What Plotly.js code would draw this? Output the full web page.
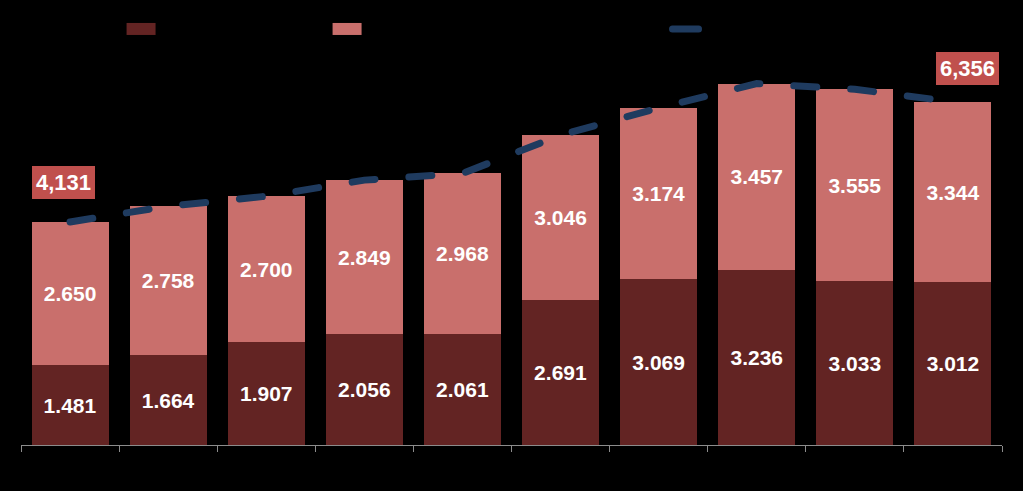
<!DOCTYPE html>
<html>
<head>
<meta charset="utf-8">
<script src="https://cdn.plot.ly/plotly-3.0.1.min.js"></script>
<style>
  html, body { margin: 0; padding: 0; background: #000; }
  #chart { width: 1023px; height: 491px; }
</style>
</head>
<body>
<div id="chart"></div>
<script>
// ---- data ----
const categories = ["2010", "2011", "2012", "2013", "2014", "2015", "2016", "2017", "2018", "2019"];
const seriesLowNames = "Serie 1";
const seriesHighNames = "Serie 2";
const lineName = "Total";
const lowValues  = [1.481, 1.664, 1.907, 2.056, 2.061, 2.691, 3.069, 3.236, 3.033, 3.012];
const highValues = [2.650, 2.758, 2.700, 2.849, 2.968, 3.046, 3.174, 3.457, 3.555, 3.344];
const totalValues = [4.131, 4.422, 4.607, 4.905, 5.029, 5.737, 6.243, 6.693, 6.588, 6.356];
const firstLabel = "4,131";
const lastLabel = "6,356";

const FONT = "Liberation Sans, Arial, sans-serif";
const DARK = "#632423";
const PINK = "#c96f6c";
const LINE = "#1f3b5f";
const BOX = "#c0504d";

const barText = {family: FONT, size: 21, color: "#ffffff", weight: 700};

const traces = [
  {
    type: "bar", name: seriesLowNames, x: categories, y: lowValues,
    text: lowValues.map(v => v.toFixed(3)), textposition: "inside",
    insidetextanchor: "middle", textangle: 0, constraintext: "none",
    insidetextfont: barText, marker: {color: DARK}, hoverinfo: "skip",
    legend: "legend"
  },
  {
    type: "bar", name: seriesHighNames, x: categories, y: highValues,
    text: highValues.map(v => v.toFixed(3)), textposition: "inside",
    insidetextanchor: "middle", textangle: 0, constraintext: "none",
    insidetextfont: barText, marker: {color: PINK}, hoverinfo: "skip",
    legend: "legend2"
  },
  {
    type: "scatter", mode: "lines", name: lineName, x: categories, y: totalValues,
    line: {color: LINE, width: 7, dash: "23px,34px"}, hoverinfo: "skip",
    legend: "legend3"
  }
];

const legendBase = {
  orientation: "h", yanchor: "middle", xanchor: "left", y: 1.027,
  bgcolor: "rgba(0,0,0,0)", font: {family: FONT, size: 16, color: "#000000"}
};

const lastIdx = categories.length - 1;

const layout = {
  width: 1023, height: 491,
  margin: {l: 21, r: 21, t: 40, b: 46},
  paper_bgcolor: "#000000", plot_bgcolor: "#000000",
  barmode: "stack", bargap: 0.215,
  showlegend: true,
  legend:  Object.assign({}, legendBase, {x: 0.102}),
  legend2: Object.assign({}, legendBase, {x: 0.312}),
  legend3: Object.assign({}, legendBase, {x: 0.657}),
  xaxis: {
    type: "category", showgrid: false, zeroline: false,
    range: [-0.5, lastIdx + 0.5],
    showline: true, linecolor: "#8c8c8c", linewidth: 1,
    ticks: "outside", tickson: "boundaries", ticklen: 6, tickcolor: "#8c8c8c",
    tickfont: {family: FONT, size: 14, color: "#000000"}
  },
  yaxis: {
    range: [0, 7.5], showgrid: false, zeroline: false, showline: false,
    showticklabels: false, ticks: ""
  },
  annotations: [
    {
      xref: "x", yref: "y", x: 0, y: totalValues[0],
      text: firstLabel, showarrow: false, yanchor: "bottom", yshift: 23, xshift: -7,
      bgcolor: BOX, borderpad: 4, borderwidth: 0,
      font: {family: FONT, size: 22, color: "#ffffff", weight: 700}
    },
    {
      xref: "x", yref: "y", x: lastIdx, y: totalValues[lastIdx],
      text: lastLabel, showarrow: false, yanchor: "bottom", yshift: 17, xshift: 15,
      bgcolor: BOX, borderpad: 4, borderwidth: 0,
      font: {family: FONT, size: 22, color: "#ffffff", weight: 700}
    }
  ]
};

Plotly.newPlot("chart", traces, layout, {displayModeBar: false, staticPlot: true}).then(function (gd) {
  // rounded dash ends, like the reference
  gd.querySelectorAll(".scatterlayer path.js-line").forEach(function (p) {
    p.style.strokeLinecap = "round";
  });
  // legend line: one solid rounded stroke
  gd.querySelectorAll(".legendlines path").forEach(function (p) {
    p.style.strokeLinecap = "round";
    p.style.strokeDasharray = "none";
    p.setAttribute("d", "M7,0h26");
  });
  // wider rectangular swatches for the bar legend entries
  gd.querySelectorAll(".legendpoints .legendbar path, .legendpoints path.legendundefined").forEach(function (p) {
    p.setAttribute("d", "M14.5,6H-14.5V-6H14.5Z");
  });
});
</script>
</body>
</html>
